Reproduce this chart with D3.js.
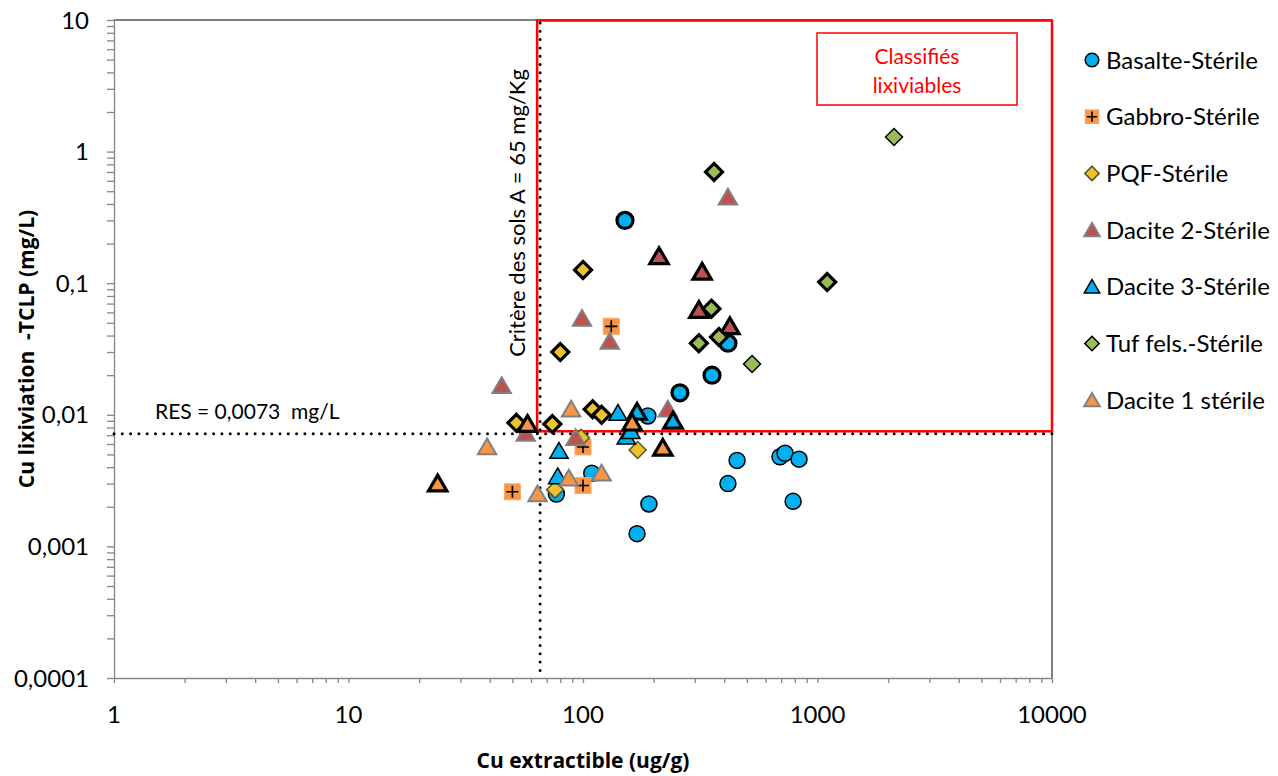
<!DOCTYPE html>
<html><head><meta charset="utf-8">
<script src="https://cdn.jsdelivr.net/npm/d3@7"></script>
<style>body{margin:0;background:#fff}svg{display:block;font-family:Lato,"Open Sans",sans-serif}</style>
</head><body><svg id="c" width="1278" height="776"></svg>
<script>
// ---- data ----
const seriesNames = ["Basalte-Stérile","Gabbro-Stérile","PQF-Stérile","Dacite 2-Stérile","Dacite 3-Stérile","Tuf fels.-Stérile","Dacite 1 stérile"];
const xTickLabels = ["1","10","100","1000","10000"];
const yTickLabels = ["10","1","0,1","0,01","0,001","0,0001"];
// [Cu extractible (ug/g), Cu lixiviation (mg/L)]
const basalte = [[189,0.0098],[109,0.0036],[77,0.0025],[191,0.0021],[170,0.00125],[454,0.0045],[415,0.0030],[692,0.0048],[727,0.0051],[834,0.0046],[787,0.0022]];
const basalteOutlined = [[151,0.30],[259,0.0147],[355,0.020],[415,0.035]];
const gabbro = [[132,0.047],[100,0.0057],[100,0.0029],[50,0.0026]];
const gabbroOutlined = [];
const pqf = [[98,0.0067],[171,0.0054],[76,0.0027]];
const pqfOutlined = [[100,0.126],[80,0.030],[52,0.0087],[74,0.0085],[110,0.011],[120,0.010]];
const dacite2 = [[415,0.45],[99,0.054],[130,0.036],[45,0.0166],[230,0.011],[93,0.0067],[57,0.0072]];
const dacite2Outlined = [[211,0.16],[322,0.122],[312,0.0625],[423,0.047]];
const dacite3 = [[141,0.0103],[153,0.0068],[160,0.0075],[79,0.0053],[78,0.0034]];
const dacite3Outlined = [[170,0.0105],[242,0.009]];
const tuf = [[2120,1.29],[526,0.0243]];
const tufOutlined = [[362,0.70],[1100,0.102],[353,0.064],[312,0.035],[380,0.039]];
const dacite1 = [[89,0.011],[39,0.0057],[64,0.0025],[87,0.0033],[120,0.0036]];
const dacite1Outlined = [[24,0.0030],[58,0.0085],[162,0.0087],[219,0.0056]];
const soilCriterion = 65;    // mg/kg
const resThreshold = 0.0073; // mg/L

// ---- styles ----
const styles = [
  {shape:"circle",  fill:"#00B0F0", stroke:"#000", sw:1.5},
  {shape:"square",  fill:"#F79646", stroke:"#F9A86A", sw:1},
  {shape:"diamond", fill:"#EBC230", stroke:"#5B5226", sw:1.5},
  {shape:"triangle",fill:"#C0504D", stroke:"#808080", sw:2},
  {shape:"triangle",fill:"#00B0F0", stroke:"#000", sw:1.5},
  {shape:"diamond", fill:"#9BBB59", stroke:"#000", sw:1.5},
  {shape:"triangle",fill:"#F79646", stroke:"#808080", sw:2}
];
const groups = [[basalte,basalteOutlined],[gabbro,gabbroOutlined],[pqf,pqfOutlined],[dacite2,dacite2Outlined],[dacite3,dacite3Outlined],[tuf,tufOutlined],[dacite1,dacite1Outlined]];

const svg = d3.select("#c");
const L=114, R=1052, T=20, B=678;
const x = d3.scaleLog().domain([1,10000]).range([L,R]);
const y = d3.scaleLog().domain([0.0001,10]).range([B,T]);
const axisCol = "#868686";

function shapePath(shape, s){
  if(shape==="circle") return d3.arc()({innerRadius:0,outerRadius:s,startAngle:0,endAngle:2*Math.PI});
  if(shape==="square") return `M${-s},${-s}H${s}V${s}H${-s}Z`;
  if(shape==="diamond") return `M0,${-s}L${s},0L0,${s}L${-s},0Z`;
  if(shape==="triangle") return `M0,${-s}L${s*1.08},${s*0.85}L${-s*1.08},${s*0.85}Z`;
}

// plot border (top/right)
svg.append("line").attr("x1",L).attr("x2",R).attr("y1",T).attr("y2",T).attr("stroke","#000").attr("stroke-width",1);
svg.append("line").attr("x1",R).attr("x2",R).attr("y1",T).attr("y2",B).attr("stroke","#000").attr("stroke-width",1);

// axes
const minorX = [], minorY = [];
for(let e=0;e<4;e++) for(let m=1;m<10;m++) minorX.push(m*Math.pow(10,e));
minorX.push(10000);
for(let e=-4;e<1;e++) for(let m=1;m<10;m++) minorY.push(m*Math.pow(10,e));
minorY.push(10);
const xAxis = svg.append("g").attr("transform",`translate(0,${B})`)
  .call(d3.axisBottom(x).tickValues(minorX).tickFormat("").tickSize(5).tickSizeOuter(0));
const yAxis = svg.append("g").attr("transform",`translate(${L},0)`)
  .call(d3.axisLeft(y).tickValues(minorY).tickFormat("").tickSize(7).tickSizeOuter(0));
[xAxis,yAxis].forEach(g=>{g.selectAll("path,line").attr("stroke",axisCol).attr("stroke-width",1.3);});

xTickLabels.forEach(t=>{
  svg.append("text").attr("x",x(+t)).attr("y",B+45).attr("text-anchor","middle")
    .attr("font-size",24).attr("fill","#000").text(t);
});
yTickLabels.forEach(t=>{
  svg.append("text").attr("x",L-25).attr("y",y(+t.replace(",","."))+8.5).attr("text-anchor","end")
    .attr("font-size",24).attr("fill","#000").text(t);
});

svg.append("text").attr("x",583).attr("y",768).attr("text-anchor","middle").attr("font-size",21)
  .attr("font-family","'Open Sans',sans-serif").attr("font-weight","bold").text("Cu extractible (ug/g)");
svg.append("text").attr("transform",`translate(34,${(T+B)/2}) rotate(-90)`).attr("text-anchor","middle")
  .attr("font-size",21).attr("font-family","'Open Sans',sans-serif").attr("font-weight","bold")
  .attr("xml:space","preserve").text("Cu lixiviation  -TCLP (mg/L)");

// red zone
const xc = x(soilCriterion), yc = y(resThreshold);
svg.append("rect").attr("x",xc-2).attr("y",T+0.5).attr("width",R-(xc-2)).attr("height",yc-2-T)
  .attr("fill","none").attr("stroke","#FF0000").attr("stroke-width",2.5);

// dotted threshold lines
svg.append("line").attr("x1",L).attr("x2",R).attr("y1",yc+1).attr("y2",yc+1)
  .attr("stroke","#000").attr("stroke-width",3).attr("stroke-linecap","round").attr("stroke-dasharray","0 8.3");
svg.append("line").attr("x1",xc+1).attr("x2",xc+1).attr("y1",T+3).attr("y2",B)
  .attr("stroke","#000").attr("stroke-width",3).attr("stroke-linecap","round").attr("stroke-dasharray","0 8.3");

// annotations
svg.append("text").attr("x",155).attr("y",419).attr("font-size",21).attr("xml:space","preserve").text("RES = 0,0073  mg/L");
svg.append("text").attr("transform",`translate(525,213) rotate(-90)`).attr("text-anchor","middle")
  .attr("font-size",22).text("Critère des sols A = 65 mg/Kg");
svg.append("rect").attr("x",817).attr("y",33).attr("width",200).attr("height",72).attr("fill","#fff")
  .attr("stroke","#FF0000").attr("stroke-width",1.5);
svg.append("text").attr("x",917).attr("y",64).attr("text-anchor","middle").attr("font-size",21).attr("fill","#FF0000").text("Classifiés");
svg.append("text").attr("x",917).attr("y",93).attr("text-anchor","middle").attr("font-size",21).attr("fill","#FF0000").text("lixiviables");

// markers
const sizes = {circle:8, square:8, diamond:8.5, triangle:8.5};
function drawMarker(g, shape, st, cx, cy, bold, scale){
  const s = sizes[shape]*scale;
  g.append("path").attr("transform",`translate(${cx},${cy})`).attr("d",shapePath(shape,s))
    .attr("fill",st.fill).attr("stroke",bold?"#000":st.stroke).attr("stroke-width",bold?3.2:st.sw)
    .attr("stroke-linejoin","miter");
  if(shape==="square"){
    g.append("path").attr("transform",`translate(${cx},${cy})`)
      .attr("d",`M${-s*0.75},0H${s*0.75}M0,${-s*0.75}V${s*0.75}`).attr("stroke","#000").attr("stroke-width",1.6);
  }
}
const pg = svg.append("g");
groups.forEach((grp,i)=>{
  const st = styles[i];
  grp[0].forEach(d=>drawMarker(pg, st.shape, st, x(d[0]), y(d[1]), false, 1));
  grp[1].forEach(d=>drawMarker(pg, st.shape, st, x(d[0]), y(d[1]), true, 1));
});

// legend
seriesNames.forEach((n,i)=>{
  const cy = 60 + i*56.7;
  const st = styles[i];
  drawMarker(svg, st.shape, st, 1092, cy, false, 0.85);
  svg.append("text").attr("x",1106).attr("y",cy+8.5).attr("font-size",24).text(n);
});
</script></body></html>
